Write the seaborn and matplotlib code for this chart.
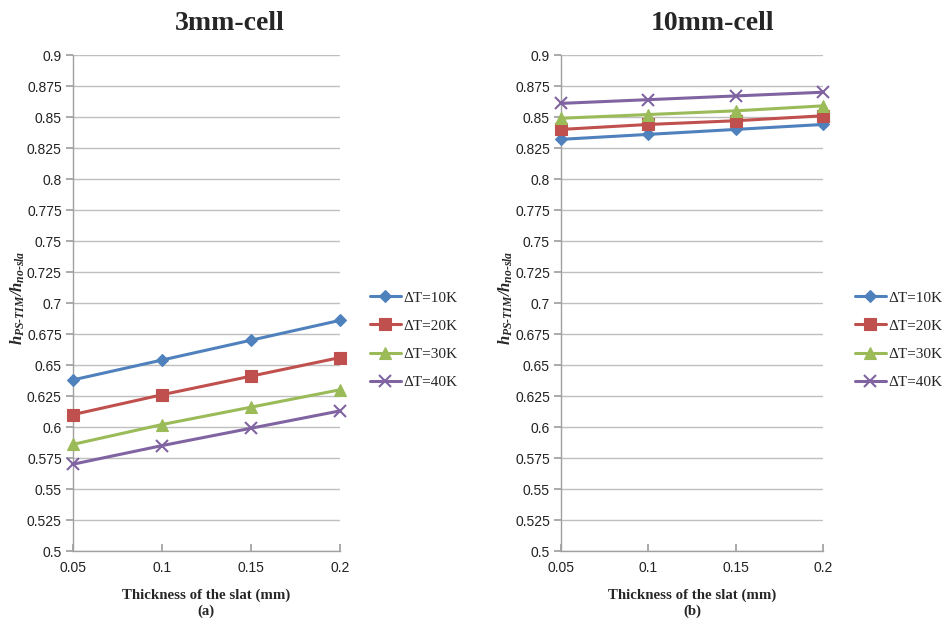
import matplotlib
matplotlib.use("Agg")
import matplotlib.pyplot as plt
import seaborn as sns
import pandas as pd

thickness = [0.05, 0.1, 0.15, 0.2]
series_labels = ["ΔT=10K", "ΔT=20K", "ΔT=30K", "ΔT=40K"]

cell3_dT10 = [0.638, 0.654, 0.670, 0.686]
cell3_dT20 = [0.610, 0.626, 0.641, 0.656]
cell3_dT30 = [0.586, 0.602, 0.616, 0.630]
cell3_dT40 = [0.570, 0.585, 0.599, 0.613]

cell10_dT10 = [0.832, 0.836, 0.840, 0.844]
cell10_dT20 = [0.840, 0.844, 0.847, 0.851]
cell10_dT30 = [0.849, 0.852, 0.855, 0.859]
cell10_dT40 = [0.861, 0.864, 0.867, 0.870]

y_ticks = [0.5 + 0.025 * i for i in range(17)]
y_tick_labels = ["0.5", "0.525", "0.55", "0.575", "0.6", "0.625", "0.65", "0.675",
                 "0.7", "0.725", "0.75", "0.775", "0.8", "0.825", "0.85", "0.875", "0.9"]
x_tick_labels = ["0.05", "0.1", "0.15", "0.2"]

colors = ["#4F81BD", "#C0504D", "#9BBB59", "#8064A2"]
markers = ["D", "s", "^", "x"]
msizes = [6.5, 8.5, 8.5, 9]

sns.set_theme(style="white")
plt.rcParams["font.family"] = ["Liberation Serif", "DejaVu Sans"]
plt.rcParams["mathtext.fontset"] = "custom"
plt.rcParams["mathtext.rm"] = "Liberation Serif:italic:bold"
plt.rcParams["mathtext.it"] = "Liberation Serif:italic:bold"
plt.rcParams["mathtext.bf"] = "Liberation Serif:italic:bold"

W, H = 945, 621
fig = plt.figure(figsize=(W / 100, H / 100), dpi=100)
ax1 = fig.add_axes([0.0772, 0.1127, 0.2825, 0.7987])
ax2 = fig.add_axes([0.5937, 0.1127, 0.2772, 0.7987])

panels = [
    (ax1, [cell3_dT10, cell3_dT20, cell3_dT30, cell3_dT40], "3mm-cell", "(a)", 230, 364, -0.172),
    (ax2, [cell10_dT10, cell10_dT20, cell10_dT30, cell10_dT40], "10mm-cell", "(b)", 713, 849, -0.176),
]

for ax, vals, title, sub, tx, lx, ylx in panels:
    for lab, v, c, m, ms in zip(series_labels, vals, colors, markers, msizes):
        df = pd.DataFrame({"x": thickness, "y": v})
        sns.lineplot(data=df, x="x", y="y", color=c, marker=m, markersize=ms,
                     markeredgewidth=1.5 if m == "x" else 0.8,
                     markeredgecolor=c, linewidth=2.2, label=lab, ax=ax,
                     clip_on=False, zorder=3)
    ax.set_xlim(0.05, 0.2)
    ax.set_ylim(0.5, 0.9)
    ax.set_yticks(y_ticks)
    ax.set_yticklabels(y_tick_labels)
    ax.set_xticks(thickness)
    ax.set_xticklabels(x_tick_labels)
    for tl in ax.get_xticklabels() + ax.get_yticklabels():
        tl.set_fontfamily("Liberation Sans")
        tl.set_fontsize(10)
        tl.set_color("#222222")
    ax.grid(axis="y", color="#BFBFBF", linewidth=1)
    ax.grid(axis="x", visible=False)
    ax.set_axisbelow(True)
    for s in ["top", "right"]:
        ax.spines[s].set_visible(False)
    for s in ["left", "bottom"]:
        ax.spines[s].set_color("#A0A0A0")
        ax.spines[s].set_linewidth(1)
    ax.tick_params(axis="y", direction="out", length=5, color="#A0A0A0", left=True, pad=3)
    ax.tick_params(axis="x", direction="in", length=5, color="#A0A0A0", bottom=True, pad=7)
    fig.text(tx / W, 1 - 30 / H, title, fontsize=20, fontweight="bold",
             ha="center", va="baseline")
    ax.set_xlabel("Thickness of the slat (mm)\n" + sub, fontsize=10.7, fontweight="bold",
                  labelpad=10, linespacing=1.25)
    ax.set_ylabel(r"$h_{PS\text{-}TIM}/h_{no\text{-}sla}$", fontsize=12)
    ax.yaxis.set_label_coords(ylx, 0.51)
    handles, labels = ax.get_legend_handles_labels()
    ax.legend(handles, labels, loc="center left", bbox_to_anchor=(lx / W, 1 - 340 / H),
              bbox_transform=fig.transFigure,
              frameon=False, fontsize=11, handlelength=2.0, handletextpad=0.15,
              labelspacing=0.95, borderaxespad=0)

fig.savefig("out.png", dpi=100, facecolor="white")
